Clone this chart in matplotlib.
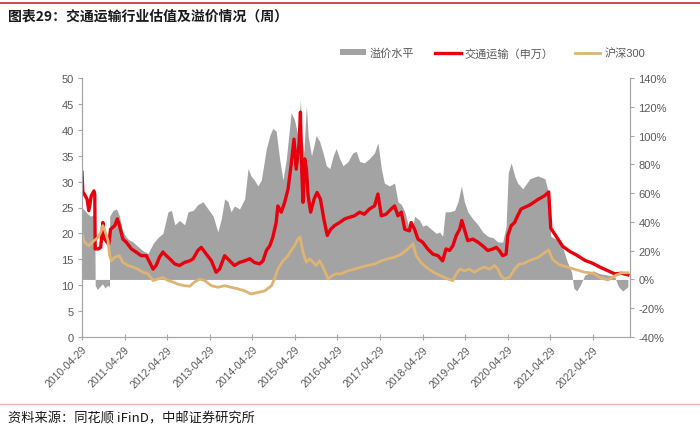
import matplotlib
matplotlib.use("Agg")
import matplotlib.pyplot as plt
import numpy as np

plt.rcParams['font.family'] = ['Liberation Sans', 'Noto Sans CJK SC', 'DejaVu Sans']

# ---- data (years elapsed since 2010-04-29) ----
t_red = [0.00, 0.02, 0.06, 0.12, 0.16, 0.22, 0.28, 0.30, 0.31, 0.38, 0.44, 0.49, 0.53, 0.59, 0.63, 0.67,
         0.77, 0.83, 0.88, 0.96, 1.04, 1.16, 1.27, 1.39, 1.51, 1.59, 1.67, 1.74, 1.82, 1.90, 1.98, 2.06,
         2.18, 2.29, 2.41, 2.53, 2.61, 2.72, 2.80, 2.92, 3.04, 3.15, 3.23, 3.35, 3.47, 3.58, 3.70, 3.82,
         3.94, 4.05, 4.17, 4.25, 4.33, 4.41, 4.48, 4.56, 4.60, 4.68, 4.76, 4.84, 4.91, 4.98, 5.03, 5.10,
         5.13, 5.16, 5.19, 5.23, 5.27, 5.31, 5.37, 5.45, 5.52, 5.60, 5.68, 5.76, 5.84, 5.93, 6.05, 6.17,
         6.28, 6.40, 6.52, 6.63, 6.75, 6.87, 6.95, 7.03, 7.14, 7.26, 7.34, 7.42, 7.50, 7.58, 7.69, 7.73,
         7.81, 7.89, 8.00, 8.12, 8.24, 8.36, 8.47, 8.55, 8.63, 8.71, 8.79, 8.87, 8.92, 8.98, 9.06, 9.18,
         9.30, 9.41, 9.53, 9.65, 9.73, 9.80, 9.88, 9.96, 10.00, 10.08, 10.16, 10.23, 10.31, 10.52, 10.70,
         10.87, 10.96, 11.01, 11.13, 11.29, 11.46, 11.62, 11.81, 12.00, 12.16, 12.35, 12.51, 12.68, 12.82]
pe_transport = [31.8, 28.0, 27.5, 26.6, 24.4, 27.3, 28.2, 27.5, 17.0, 17.0, 17.3, 22.1, 18.9, 18.3, 17.9, 20.8,
                21.5, 22.8, 21.5, 18.9, 18.3, 17.0, 16.4, 15.7, 15.7, 14.4, 13.1, 13.8, 15.4, 16.4, 15.7, 15.1,
                14.1, 13.8, 14.4, 14.7, 15.1, 16.7, 17.3, 16.0, 14.7, 12.5, 13.1, 15.7, 14.7, 13.8, 14.4, 14.7,
                15.1, 14.4, 14.1, 14.7, 16.7, 17.6, 19.2, 22.1, 25.3, 24.1, 26.0, 28.6, 33.1, 38.2, 32.4, 37.6,
                43.4, 32.4, 26.0, 34.4, 32.4, 27.3, 24.1, 26.6, 27.9, 26.6, 22.8, 19.6, 20.8, 21.5, 22.1, 22.8,
                23.1, 23.4, 24.1, 23.7, 24.7, 25.3, 27.6, 23.4, 23.7, 24.7, 25.3, 23.4, 24.1, 20.8, 20.5, 22.1,
                20.8, 18.9, 18.3, 17.0, 16.0, 15.7, 14.7, 17.0, 16.7, 17.6, 19.6, 20.8, 22.5, 20.8, 18.6, 18.9,
                18.3, 17.6, 16.7, 17.0, 17.3, 16.7, 15.7, 16.0, 19.6, 21.5, 22.1, 23.4, 24.7, 25.5, 26.5,
                27.3, 28.0, 21.0, 19.5, 17.5, 16.5, 15.8, 14.8, 14.2, 13.5, 12.8, 12.2, 12.3, 12.0]

t_hs = [0.00, 0.06, 0.16, 0.28, 0.38, 0.44, 0.49, 0.55, 0.61, 0.65, 0.69, 0.77, 0.88, 0.96, 1.08, 1.20,
        1.31, 1.43, 1.55, 1.67, 1.78, 1.90, 2.02, 2.14, 2.25, 2.41, 2.53, 2.64, 2.76, 2.88, 3.04, 3.19,
        3.35, 3.50, 3.66, 3.82, 3.97, 4.13, 4.29, 4.45, 4.52, 4.60, 4.72, 4.84, 4.91, 4.99, 5.07, 5.12,
        5.19, 5.27, 5.35, 5.43, 5.50, 5.58, 5.66, 5.78, 5.86, 5.97, 6.09, 6.25, 6.40, 6.56, 6.71, 6.87,
        7.03, 7.18, 7.34, 7.50, 7.65, 7.73, 7.77, 7.85, 7.96, 8.08, 8.20, 8.32, 8.43, 8.59, 8.71, 8.79,
        8.87, 8.98, 9.10, 9.22, 9.33, 9.45, 9.57, 9.69, 9.77, 9.84, 9.92, 10.04, 10.16, 10.27, 10.35,
        10.52, 10.70, 10.87, 10.96, 11.05, 11.20, 11.40, 11.60, 11.81, 12.00, 12.16, 12.35, 12.51, 12.68, 12.82]
pe_hs300 = [19.9, 18.3, 17.6, 18.6, 19.2, 20.2, 21.5, 20.2, 18.6, 15.7, 14.7, 15.4, 15.7, 14.4, 13.8, 13.5,
            13.1, 12.5, 12.2, 10.9, 11.2, 11.5, 10.9, 10.6, 10.2, 9.9, 9.8, 10.6, 11.2, 10.9, 9.9, 9.6,
            9.9, 9.6, 9.3, 8.9, 8.3, 8.6, 8.9, 9.9, 11.2, 13.1, 14.7, 15.7, 16.7, 17.6, 18.9, 19.3,
            16.4, 14.4, 15.1, 14.4, 13.8, 14.7, 13.5, 11.2, 11.8, 12.2, 12.2, 12.8, 13.1, 13.5, 13.8, 14.1,
            14.7, 15.1, 15.4, 16.0, 17.0, 17.6, 18.0, 15.7, 14.4, 13.5, 12.8, 12.2, 11.8, 11.2, 10.9, 12.2,
            13.1, 12.8, 13.1, 12.5, 13.1, 13.5, 13.1, 13.8, 13.1, 11.8, 11.2, 11.5, 13.1, 14.1, 14.1,
            14.8, 15.3, 16.3, 16.8, 15.0, 14.0, 13.5, 13.0, 12.5, 12.3, 11.5, 11.0, 11.8, 12.4, 12.4]

t_prem = [0.00, 0.06, 0.12, 0.20, 0.28, 0.30, 0.31, 0.36, 0.42, 0.48, 0.54, 0.60, 0.645, 0.65, 0.73, 0.81,
          0.88, 0.96, 1.08, 1.20, 1.31, 1.43, 1.55, 1.67, 1.78, 1.90, 2.02, 2.10, 2.18, 2.29, 2.41, 2.49,
          2.61, 2.72, 2.84, 2.96, 3.08, 3.19, 3.27, 3.35, 3.43, 3.50, 3.58, 3.70, 3.82, 3.90, 3.97, 4.05,
          4.13, 4.21, 4.33, 4.41, 4.48, 4.56, 4.64, 4.72, 4.80, 4.88, 4.91, 4.99, 5.07, 5.13, 5.16, 5.21,
          5.27, 5.31, 5.39, 5.50, 5.58, 5.66, 5.74, 5.82, 5.90, 5.97, 6.05, 6.13, 6.25, 6.36, 6.44, 6.52,
          6.63, 6.75, 6.87, 6.95, 7.03, 7.10, 7.22, 7.34, 7.42, 7.50, 7.58, 7.69, 7.77, 7.81, 7.93, 8.00,
          8.08, 8.20, 8.32, 8.40, 8.47, 8.53, 8.63, 8.75, 8.83, 8.91, 8.98, 9.06, 9.18, 9.30, 9.41, 9.53,
          9.65, 9.77, 9.88, 9.96, 10.01, 10.08, 10.16, 10.23, 10.35, 10.52, 10.70, 10.87, 10.96, 11.01,
          11.13, 11.29, 11.40, 11.50, 11.55, 11.62, 11.70, 11.81, 12.00, 12.16, 12.35, 12.51, 12.60, 12.70, 12.82]
premium = [50, 48, 46, 44, 45, 42, -4, -7, -5, -3, -6, -4, -5, 44, 48, 49,
           44, 33, 28, 26, 23, 20, 18, 25, 29, 32, 47, 48, 38, 41, 38, 47,
           48, 52, 54, 49, 44, 33, 42, 56, 54, 47, 51, 49, 56, 77, 72, 69,
           65, 69, 91, 100, 105, 103, 84, 69, 84, 107, 116, 111, 100, 125, 100, 88,
           121, 100, 86, 100, 96, 88, 79, 77, 86, 91, 84, 79, 82, 88, 89, 82,
           81, 84, 88, 95, 77, 67, 65, 67, 54, 52, 47, 35, 37, 44, 41, 37,
           38, 35, 32, 33, 30, 47, 47, 48, 54, 65, 54, 47, 42, 38, 33, 30,
           29, 26, 26, 37, 74, 81, 72, 67, 63, 70, 72, 70, 60, 30,
           28, 22, 12, 5, -6, -8, -4, 3, 6, 4, 3, 2, -5, -8, -5]

tick_labels = ['2010-04-29', '2011-04-29', '2012-04-29', '2013-04-29', '2014-04-29', '2015-04-29',
               '2016-04-29', '2017-04-29', '2018-04-29', '2019-04-29', '2020-04-29', '2021-04-29',
               '2022-04-29']

labels = ['溢价水平', '交通运输（申万）', '沪深300']
C_GRAY = '#A3A3A3'
C_RED = '#E8000F'
C_TAN = '#DDB474'
C_TXT = '#595959'
C_AX = '#A6A6A6'

fig = plt.figure(figsize=(7, 4.35), dpi=100)
ax = fig.add_axes([82/700, 1-338/435, (630-82)/700, (338-79)/435])   # premium (right axis)
ax2 = ax.twinx()                                                    # PE (left axis)

ax.fill_between(t_prem, 0, premium, color=C_GRAY, lw=0, interpolate=True, label=labels[0])
ax.set_ylim(-40, 140)
ax.set_yticks(np.arange(-40, 141, 20))
ax.set_yticklabels([f'{v}%' for v in range(-40, 141, 20)])
ax.yaxis.tick_right()
ax.yaxis.set_label_position('right')

ax2.plot(t_red, pe_transport, color=C_RED, lw=2.4, label=labels[1], solid_joinstyle='round')
ax2.plot(t_hs, pe_hs300, color=C_TAN, lw=2.0, label=labels[2], solid_joinstyle='round')
ax2.set_ylim(0, 50)
ax2.set_yticks(np.arange(0, 51, 5))
ax2.yaxis.tick_left()

ax.set_xlim(0, 12.87)
ax.set_xticks(np.arange(len(tick_labels)))
ax.set_xticklabels(tick_labels, rotation=45, ha='right', rotation_mode='anchor')

for a in (ax, ax2):
    for s in a.spines.values():
        s.set_color(C_AX)
    a.spines['top'].set_visible(False)
    a.tick_params(colors=C_TXT, labelsize=8, length=3, width=0.8, color=C_AX)
ax.tick_params(axis='x', labelsize=7.5, direction='inout', length=4, pad=3)
ax.tick_params(axis='y', pad=3)
ax2.tick_params(axis='y', pad=3)

# legend
h1, l1 = ax.get_legend_handles_labels()
h2, l2 = ax2.get_legend_handles_labels()
leg = fig.legend(h1 + h2, l1 + l2, loc='center right', bbox_to_anchor=(655/700, 1-54/435), ncol=3,
                 frameon=False, fontsize=8, handlelength=2.3, handleheight=0.45, columnspacing=1.9,
                 handletextpad=0.35, labelcolor=C_TXT)

# title, rules, source
fig.add_artist(plt.Line2D([0, 1], [1-3.5/435, 1-3.5/435], color='#C0282D', lw=1.2))
fig.text(8/700, 1-17/435, '图表29：交通运输行业估值及溢价情况（周）', fontsize=10, fontweight='bold',
         color='#1A1A1A', va='center', ha='left', family=['Noto Sans CJK SC', 'DejaVu Sans'])
fig.add_artist(plt.Line2D([0, 1], [1-405/435, 1-405/435], color='#F2B8B5', lw=1.0))
fig.text(8/700, 1-419/435, '资料来源：同花顺 iFinD，中邮证券研究所', fontsize=9.5, color='#1A1A1A',
         va='center', ha='left', family=['Noto Sans CJK SC', 'DejaVu Sans'])

fig.savefig('out.png', dpi=100)
